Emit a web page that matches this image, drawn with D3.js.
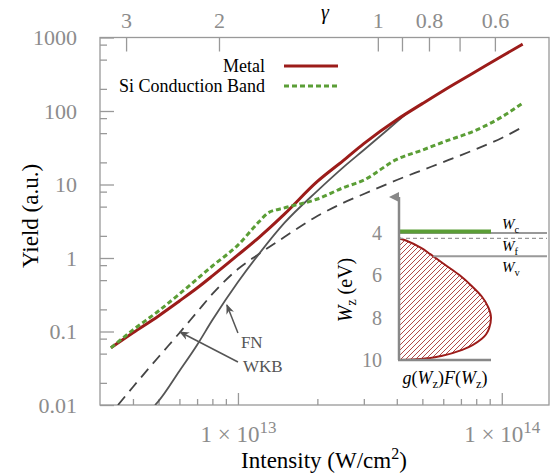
<!DOCTYPE html>
<html>
<head>
<meta charset="utf-8">
<script src="https://cdn.jsdelivr.net/npm/d3@7"></script>
<style>
body { margin: 0; background: #fff; }
svg, svg text { font-family: "Liberation Serif", "Times New Roman", "DejaVu Serif", serif !important; }
</style>
</head>
<body>
<svg width="552" height="476"></svg>
<script>
// intensities (W/cm^2) shared by the Metal and Si curves
var intensity = [3.3e12, 4e12, 5e12, 6e12, 7e12, 8e12, 1e13, 1.2e13, 1.3e13, 1.5e13, 2e13, 2.5e13, 3e13, 4e13, 5e13, 6e13, 8e13, 1e14, 1.2e14];
var metalYield = [0.06, 0.096, 0.163, 0.26, 0.39, 0.57, 1.1, 1.9, 2.45, 3.95, 11, 21, 36, 76, 126, 189, 347, 556, 813];
var siYield = [0.06, 0.105, 0.19, 0.324, 0.518, 0.778, 1.5, 3.1, 4.1, 4.8, 6.35, 9.0, 11.5, 22, 29.4, 37.8, 55, 83, 128];

var wkbIntensity = [3.51e12, 4e12, 5e12, 6e12, 7e12, 8e12, 1e13, 1.2e13, 1.5e13, 2e13, 2.5e13, 3e13, 4e13, 5e13, 6e13, 8e13, 1e14, 1.2e14];
var wkbYield = [0.01, 0.0176, 0.045, 0.0955, 0.184, 0.324, 0.708, 1.13, 1.93, 3.72, 5.6, 7.43, 11.5, 15.7, 20.2, 30.4, 42.9, 60.6];

var fnIntensity = [4.85e12, 5e12, 6e12, 7e12, 8e12, 1e13, 1.2e13, 1.5e13, 2e13, 2.5e13, 3e13, 4e13, 4.4e13];
var fnYield = [0.01, 0.0113, 0.029, 0.0655, 0.143, 0.471, 1.13, 3.0, 8.2, 17, 29.5, 71, 95];

var yTicks = [0.01, 0.1, 1, 10, 100, 1000];
var yTickLabels = ["0.01", "0.1", "1", "10", "100", "1000"];
var xTicks = [1e13, 1e14];
var xTickExp = ["13", "14"];
var gammaRef = 3.39e13; // intensity where gamma = 1
var gammaTicks = [3, 2, 1, 0.9, 0.8, 0.7, 0.6];
var gammaLabels = [3, 2, 1, 0.8, 0.6];

// inset: energy distribution
var wzLevels = [4.25, 4.4, 4.7, 5.0, 5.5, 6.0, 6.5, 7.0, 7.5, 8.0, 8.5, 9.0, 9.5, 9.8, 9.9, 9.98, 10.0];
var gfValues = [0, 0.1, 0.24, 0.34, 0.5, 0.66, 0.79, 0.9, 0.97, 1.0, 0.98, 0.9, 0.7, 0.47, 0.34, 0.15, 0];
var insetTicks = [4, 6, 8, 10];
var wC = 4.0, wF = 4.25, wV = 5.1, wGreen = 3.93;

var serif = '"Liberation Serif", "Times New Roman", "DejaVu Serif", serif';
var svg = d3.select("svg").style("font-family", serif);
var red = "#9c1c1a", green = "#5b9e36", gray = "#999", tickGray = "#8c8c8c";

var x = d3.scaleLog().domain([3.0e12, 1.51e14]).range([100, 549]);
var y = d3.scaleLog().domain([0.01, 1000]).range([405, 37.5]);

svg.append("clipPath").attr("id", "plot")
  .append("rect").attr("x", 100).attr("y", 37.5).attr("width", 449).attr("height", 367.5);

// frame
svg.append("rect")
  .attr("x", 100).attr("y", 37.5).attr("width", 449).attr("height", 367.5)
  .attr("fill", "none").attr("stroke", gray).attr("stroke-width", 1.3);

function styleAxis(g) {
  g.attr("font-family", null);
  g.select(".domain").remove();
  g.selectAll("line").attr("stroke", gray).attr("stroke-width", 1.3);
  g.selectAll("text").attr("fill", tickGray).style("font-size", "22px").style("font-family", serif);
}

// left axis
var yMinor = [];
for (var k = -2; k < 3; k++) [2, 5, 8].forEach(function(m) { yMinor.push(m * Math.pow(10, k)); });
svg.append("g").attr("transform", "translate(100,0)")
  .call(d3.axisLeft(y).tickValues(yMinor).tickSize(-7).tickFormat(""))
  .call(styleAxis);
svg.append("g").attr("transform", "translate(100,0)")
  .call(d3.axisLeft(y).tickValues(yTicks).tickSize(-14).tickPadding(23)
    .tickFormat(function(d, i) { return yTickLabels[i]; }))
  .call(styleAxis);

// bottom axis
var xMinor = [];
[12, 13].forEach(function(e) {
  for (var m = 2; m <= 9; m++) {
    var v = m * Math.pow(10, e);
    if (v > x.domain()[0] && v < x.domain()[1]) xMinor.push(v);
  }
});
svg.append("g").attr("transform", "translate(0,405)")
  .call(d3.axisBottom(x).tickValues(xMinor).tickSize(-6).tickFormat(""))
  .call(styleAxis);
var xAx = svg.append("g").attr("transform", "translate(0,405)")
  .call(d3.axisBottom(x).tickValues(xTicks).tickSize(-12).tickPadding(21).tickFormat(""))
  .call(styleAxis);
xAx.selectAll(".tick text").each(function(d, i) {
  var t = d3.select(this).attr("dy", "0.71em").attr("fill", tickGray)
    .style("font-size", "23px").style("font-family", serif);
  t.append("tspan").text("1 \u00d7 10");
  t.append("tspan").text(xTickExp[i]).attr("dy", -9).style("font-size", "17px");
});

// top gamma axis
var g = d3.scaleLog()
  .domain([Math.sqrt(gammaRef / x.domain()[0]), Math.sqrt(gammaRef / x.domain()[1])])
  .range([100, 549]);
svg.append("g").attr("transform", "translate(0,37.5)")
  .call(d3.axisTop(g).tickValues(gammaTicks).tickSize(-14).tickPadding(10)
    .tickFormat(function(d) { return gammaLabels.indexOf(d) >= 0 ? d : ""; }))
  .call(styleAxis);

svg.append("text").attr("x", 325).attr("y", 19).attr("text-anchor", "middle")
  .style("font-size", "20px").style("font-style", "italic").text("\u03b3");

// axis titles
var xt = svg.append("text").attr("x", 324).attr("y", 468).attr("text-anchor", "middle")
  .style("font-size", "23px");
xt.append("tspan").text("Intensity (W/cm");
xt.append("tspan").text("2").attr("dy", -9).style("font-size", "16px");
xt.append("tspan").text(")").attr("dy", 9);

svg.append("text").attr("transform", "translate(38,216) rotate(-90)")
  .attr("text-anchor", "middle").style("font-size", "23px").text("Yield (a.u.)");

// curves
var line = d3.line().curve(d3.curveMonotoneX);
var plot = svg.append("g").attr("clip-path", "url(#plot)");

function pts(xs, ys) { return xs.map(function(v, i) { return [x(v), y(ys[i])]; }); }

plot.append("path").attr("d", line(pts(wkbIntensity, wkbYield)))
  .attr("fill", "none").attr("stroke", "#444").attr("stroke-width", 1.8).attr("stroke-dasharray", "11,7");
plot.append("path").attr("d", line(pts(fnIntensity, fnYield)))
  .attr("fill", "none").attr("stroke", "#555").attr("stroke-width", 1.8);
plot.append("path").attr("d", line(pts(intensity, metalYield)))
  .attr("fill", "none").attr("stroke", red).attr("stroke-width", 3);
plot.append("path").attr("d", line(pts(intensity, siYield)))
  .attr("fill", "none").attr("stroke", green).attr("stroke-width", 3).attr("stroke-dasharray", "5,3");

// legend
var legend = [
  { name: "Metal", color: red, dash: null, y: 66 },
  { name: "Si Conduction Band", color: green, dash: "5,3", y: 86 }
];
legend.forEach(function(d) {
  svg.append("text").attr("x", 265).attr("y", d.y + 6).attr("text-anchor", "end")
    .style("font-size", "18px").text(d.name);
  svg.append("line").attr("x1", 284).attr("x2", 338).attr("y1", d.y).attr("y2", d.y)
    .attr("stroke", d.color).attr("stroke-width", 3).attr("stroke-dasharray", d.dash);
});

// annotation arrows
var defs = svg.append("defs");
defs.append("marker").attr("id", "arr").attr("viewBox", "0 0 10 10")
  .attr("refX", 9).attr("refY", 5).attr("markerWidth", 10).attr("markerHeight", 10)
  .attr("markerUnits", "userSpaceOnUse").attr("orient", "auto")
  .append("path").attr("d", "M0,1 L10,5 L0,9 L3,5 Z").attr("fill", "#555");

var notes = [
  { text: "FN", from: [1e13, 0.0955], to: [9.08e12, 0.23], at: [1.026e13, 0.06] },
  { text: "WKB", from: [1e13, 0.0385], to: [6.03e12, 0.0985], at: [1.045e13, 0.028] }
];
notes.forEach(function(d) {
  svg.append("line")
    .attr("x1", x(d.from[0])).attr("y1", y(d.from[1]))
    .attr("x2", x(d.to[0])).attr("y2", y(d.to[1]))
    .attr("stroke", "#555").attr("stroke-width", 1.5).attr("marker-end", "url(#arr)");
  svg.append("text").attr("x", x(d.at[0])).attr("y", y(d.at[1]))
    .attr("fill", "#555").style("font-size", "17px").text(d.text);
});

// inset
var wz = d3.scaleLinear().domain([4, 10]).range([233, 360]);
var gf = d3.scaleLinear().domain([0, 1]).range([399, 491]);
var inset = svg.append("g");

var hatch = defs.append("pattern").attr("id", "hatch").attr("patternUnits", "userSpaceOnUse")
  .attr("width", 5).attr("height", 5);
hatch.append("path").attr("d", "M-1,1 L1,-1 M0,5 L5,0 M4,6 L6,4")
  .attr("stroke", red).attr("stroke-width", 0.8);

defs.append("marker").attr("id", "up").attr("viewBox", "0 0 10 10")
  .attr("refX", 5).attr("refY", 10).attr("markerWidth", 10).attr("markerHeight", 12)
  .attr("markerUnits", "userSpaceOnUse").attr("orient", "auto")
  .append("path").attr("d", "M0,10 L5,0 L10,10 Z").attr("fill", "#888");

var area = d3.line().curve(d3.curveMonotoneY)
  .x(function(d) { return gf(d[1]); }).y(function(d) { return wz(d[0]); });
var distPts = wzLevels.map(function(w, i) { return [w, gfValues[i]]; });
inset.append("path").attr("d", area(distPts) + "Z")
  .attr("fill", "url(#hatch)").attr("stroke", red).attr("stroke-width", 2);

// value of distribution at wV
var vAtWv = d3.scaleLinear().domain(wzLevels.slice(0, 5)).range(gfValues.slice(0, 5))(wV);

inset.append("line").attr("x1", gf(0)).attr("x2", 547).attr("y1", wz(wC)).attr("y2", wz(wC))
  .attr("stroke", gray).attr("stroke-width", 2);
inset.append("line").attr("x1", gf(0)).attr("x2", 547).attr("y1", wz(wF)).attr("y2", wz(wF))
  .attr("stroke", gray).attr("stroke-width", 1.3).attr("stroke-dasharray", "4,3");
inset.append("line").attr("x1", gf(vAtWv)).attr("x2", 547).attr("y1", wz(wV)).attr("y2", wz(wV))
  .attr("stroke", gray).attr("stroke-width", 2);
inset.append("line").attr("x1", gf(0)).attr("x2", gf(1)).attr("y1", wz(wGreen)).attr("y2", wz(wGreen))
  .attr("stroke", green).attr("stroke-width", 4);

inset.append("line").attr("x1", gf(0)).attr("x2", gf(0)).attr("y1", wz(10)).attr("y2", 197)
  .attr("stroke", "#888").attr("stroke-width", 2.5).attr("marker-end", "url(#up)");
inset.append("line").attr("x1", gf(0) - 1).attr("x2", gf(1)).attr("y1", wz(10)).attr("y2", wz(10))
  .attr("stroke", "#888").attr("stroke-width", 2.5);

insetTicks.forEach(function(t) {
  inset.append("text").attr("x", 382).attr("y", wz(t)).attr("dy", "0.35em")
    .attr("text-anchor", "end").attr("fill", tickGray).style("font-size", "20px").text(t);
});

function sub(sel, main, s) {
  sel.append("tspan").text(main).style("font-style", "italic");
  sel.append("tspan").text(s).attr("dy", 4).style("font-size", "0.7em");
}
[["c", wC, -4], ["f", wF, 13], ["v", wV, 16]].forEach(function(d) {
  var t = inset.append("text").attr("x", 502).attr("y", wz(d[1]) + d[2]).style("font-size", "15px");
  sub(t, "W", d[0]);
});

var wl = inset.append("text").attr("transform", "translate(352,290) rotate(-90)")
  .attr("text-anchor", "middle").style("font-size", "20px");
sub(wl, "W", "z");
wl.append("tspan").text(" (eV)").attr("dy", -4);

var gl = inset.append("text").attr("x", 445).attr("y", 384).attr("text-anchor", "middle")
  .style("font-size", "18px");
gl.append("tspan").text("g").style("font-style", "italic");
gl.append("tspan").text("(");
sub(gl, "W", "z");
gl.append("tspan").text(")").attr("dy", -4);
gl.append("tspan").text("F").style("font-style", "italic");
gl.append("tspan").text("(");
sub(gl, "W", "z");
gl.append("tspan").text(")").attr("dy", -4);
</script>
</body>
</html>
